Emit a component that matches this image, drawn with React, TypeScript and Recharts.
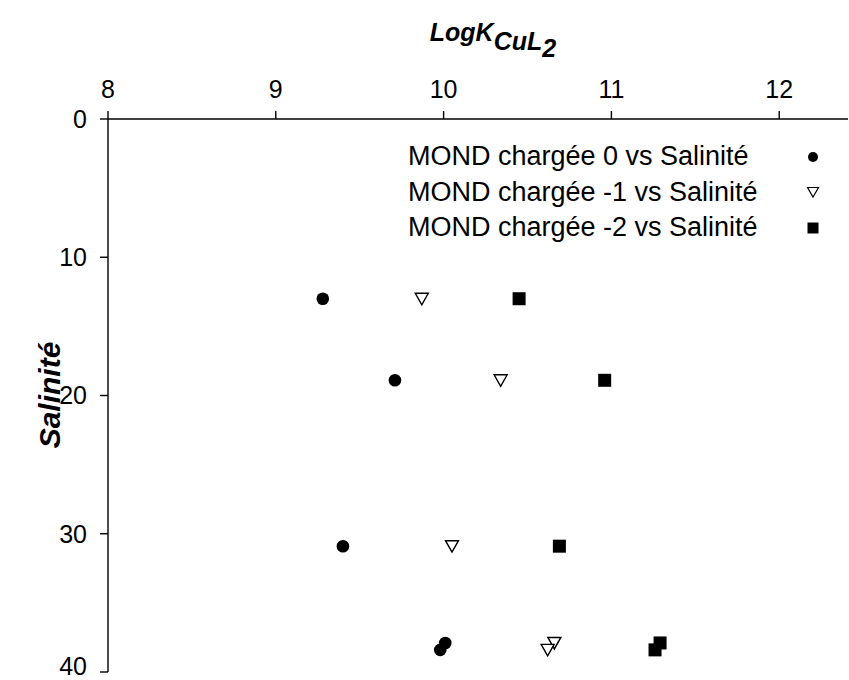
import React from "react";
import { Scatter, ScatterChart, XAxis, YAxis } from "recharts";

// salinité commune aux trois séries
const salinite = [13, 18.9, 30.9, 37.9, 38.4];
const logK0 = [9.28, 9.71, 9.4, 10.01, 9.98];
const logK1 = [9.87, 10.34, 10.05, 10.66, 10.62];
const logK2 = [10.45, 10.96, 10.69, 11.29, 11.26];
const xTicks = [8, 9, 10, 11, 12];
const yTicks = [0, 10, 20, 30, 40];
const noms = [
  "MOND chargée 0 vs Salinité",
  "MOND chargée -1 vs Salinité",
  "MOND chargée -2 vs Salinité",
];

const FONT = '"Liberation Sans", Arial, sans-serif';

const serie = (xs: number[]) => xs.map((x, i) => ({ x, y: salinite[i] }));

const Rond = (p: any) => <circle cx={p.cx} cy={p.cy} r={6.3} fill="#000" />;
const Triangle = (p: any) => (
  <path
    d={`M${p.cx - 6.5},${p.cy - 5.5} L${p.cx + 6.5},${p.cy - 5.5} L${p.cx},${p.cy + 6} Z`}
    fill="#fff"
    stroke="#000"
    strokeWidth={1.4}
  />
);
const Carre = (p: any) => <rect x={p.cx - 6.5} y={p.cy - 6.5} width={13} height={13} fill="#000" />;

function Titre({ viewBox }: any) {
  const cx = viewBox.x + 385;
  return (
    <text x={cx} y={41} textAnchor="middle" fontFamily={FONT} fontWeight="bold" fontStyle="italic" fill="#000">
      <tspan fontSize={25}>LogK</tspan>
      <tspan fontSize={25} dy={9}>CuL</tspan>
      <tspan fontSize={25} dy={7}>2</tspan>
    </text>
  );
}

function TitreY() {
  return (
    <text
      x={49}
      y={395}
      transform="rotate(-90, 49, 395)"
      textAnchor="middle"
      dominantBaseline="central"
      fontFamily={FONT}
      fontWeight="bold"
      fontStyle="italic"
      fontSize={30}
      fill="#000"
    >
      Salinité
    </text>
  );
}

const icones = [
  <circle cx={7} cy={7} r={5} fill="#000" />,
  <path d="M1.5,2.5 L12.5,2.5 L7,12 Z" fill="#fff" stroke="#000" strokeWidth={1.2} />,
  <rect x={1.5} y={1.5} width={11} height={11} fill="#000" />,
];

function Legende() {
  return (
    <div
      style={{
        position: "absolute",
        top: 139,
        left: 408,
        width: 412,
        fontFamily: FONT,
        fontSize: 27,
        color: "#000",
      }}
    >
      {noms.map((n, i) => (
        <div key={n} style={{ display: "flex", alignItems: "center", justifyContent: "space-between", height: 35.5 }}>
          <span>{n}</span>
          <svg width={14} height={14}>{icones[i]}</svg>
        </div>
      ))}
    </div>
  );
}

export default function App() {
  const tick = { fill: "#000", fontSize: 25, fontFamily: FONT };
  return (
    <div style={{ position: "absolute", left: 0, top: 0, width: 849, height: 680, background: "#fff" }}>
      <ScatterChart width={849} height={680} margin={{ top: 0, right: 1, bottom: 8, left: 0 }}>
        <XAxis
          type="number"
          dataKey="x"
          orientation="top"
          domain={[8, 12.41]}
          ticks={xTicks}
          allowDataOverflow
          height={119}
          tickSize={8}
          tickMargin={13}
          tick={tick}
          axisLine={{ stroke: "#000", strokeWidth: 1.4 }}
          tickLine={{ stroke: "#000", strokeWidth: 1.4 }}
          label={<Titre />}
        />
        <YAxis
          type="number"
          dataKey="y"
          domain={[0, 40]}
          reversed
          ticks={yTicks}
          width={108}
          tickSize={8}
          tickMargin={13}
          tick={tick}
          axisLine={{ stroke: "#000", strokeWidth: 1.4 }}
          tickLine={{ stroke: "#000", strokeWidth: 1.4 }}
          label={<TitreY />}
        />
        <Scatter name={noms[0]} data={serie(logK0)} shape={Rond} isAnimationActive={false} />
        <Scatter name={noms[1]} data={serie(logK1)} shape={Triangle} isAnimationActive={false} />
        <Scatter name={noms[2]} data={serie(logK2)} shape={Carre} isAnimationActive={false} />
      </ScatterChart>
      <Legende />
    </div>
  );
}
